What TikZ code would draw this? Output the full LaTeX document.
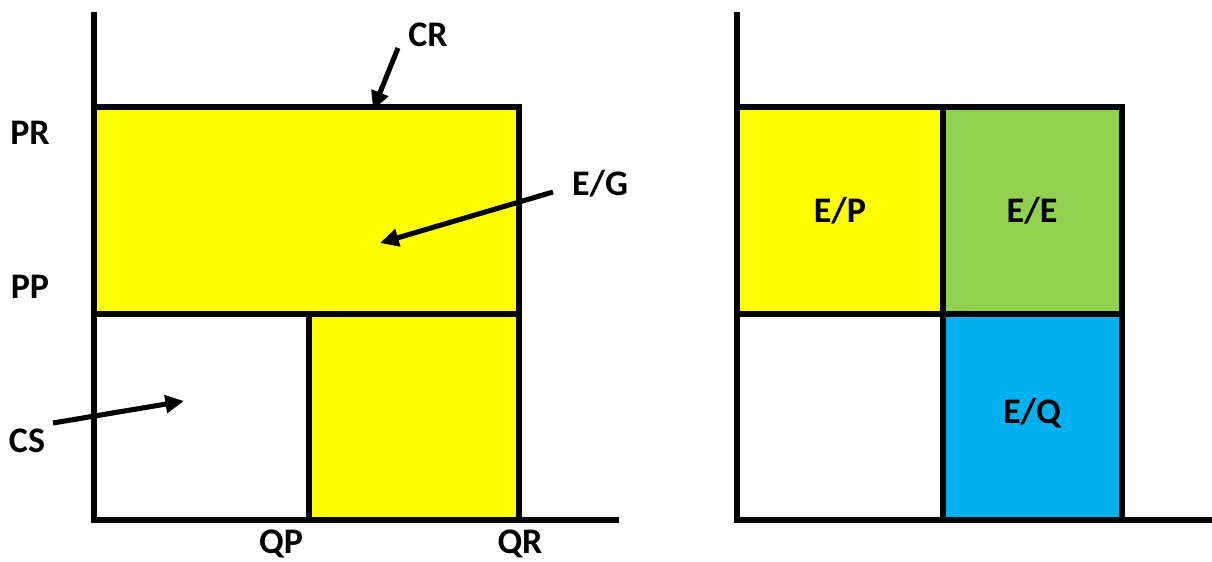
\documentclass[tikz,border=0pt]{standalone}
\usepackage{fontspec}
\setmainfont{Carlito}
\usetikzlibrary{arrows.meta}
\definecolor{cyel}{HTML}{FFFF00}
\definecolor{cgreen}{HTML}{92D050}
\definecolor{cblue}{HTML}{00B0F0}
\tikzset{
  lbl/.style={font=\fontsize{27}{31}\selectfont\bfseries, inner sep=0pt},
  thick line/.style={line width=4.5pt, line join=miter},
  pointer/.style={line width=3.8pt, -{Triangle[length=14pt,width=13pt]}}
}
\begin{document}
\begin{tikzpicture}[x=0.75pt,y=-0.75pt]
\useasboundingbox (0,0) rectangle (1212,561);
% left panel fills
\fill[cyel] (94,107) rectangle (519,314);
\fill[cyel] (309,314) rectangle (519,520);
% right panel fills
\fill[cyel] (737,107) rectangle (943,314);
\fill[cgreen] (943,107) rectangle (1122,314);
\fill[cblue] (943,314) rectangle (1122,520);
% left panel lines
\draw[thick line] (94,107) -- (519,107) -- (519,520);
\draw[thick line] (94,314) -- (519,314);
\draw[thick line] (309,314) -- (309,520);
\draw[thick line] (94,12) -- (94,520) -- (619,520);
% right panel lines
\draw[thick line] (737,107) -- (1122,107) -- (1122,520);
\draw[thick line] (737,314) -- (1122,314);
\draw[thick line] (943,107) -- (943,520);
\draw[thick line] (737,12) -- (737,520) -- (1212,520);
% labels
\node[lbl] (cr) at (428,35) {CR};
\node[lbl] (pr) at (30,133) {PR};
\node[lbl] (pp) at (30,287) {PP};
\node[lbl] (eg) at (600,184) {E/G};
\node[lbl] (cs) at (27,441) {CS};
\node[lbl] (qp) at (281,544) {QP};
\node[lbl] (qr) at (520,544) {QR};
\node[lbl] (ep) at (840,211) {E/P};
\node[lbl] (ee) at (1032,211) {E/E};
\node[lbl] (eq) at (1032,413) {E/Q};
% arrows
\coordinate (crtail) at (398,48);
\coordinate (crtip) at (373,110);
\coordinate (egtail) at (553,192);
\coordinate (egtip) at (380,243);
\coordinate (cstail) at (53,423);
\coordinate (cstip) at (184,401);
\draw[pointer] (crtail) -- (crtip);
\draw[pointer] (egtail) -- (egtip);
\draw[pointer] (cstail) -- (cstip);
\end{tikzpicture}
\end{document}
